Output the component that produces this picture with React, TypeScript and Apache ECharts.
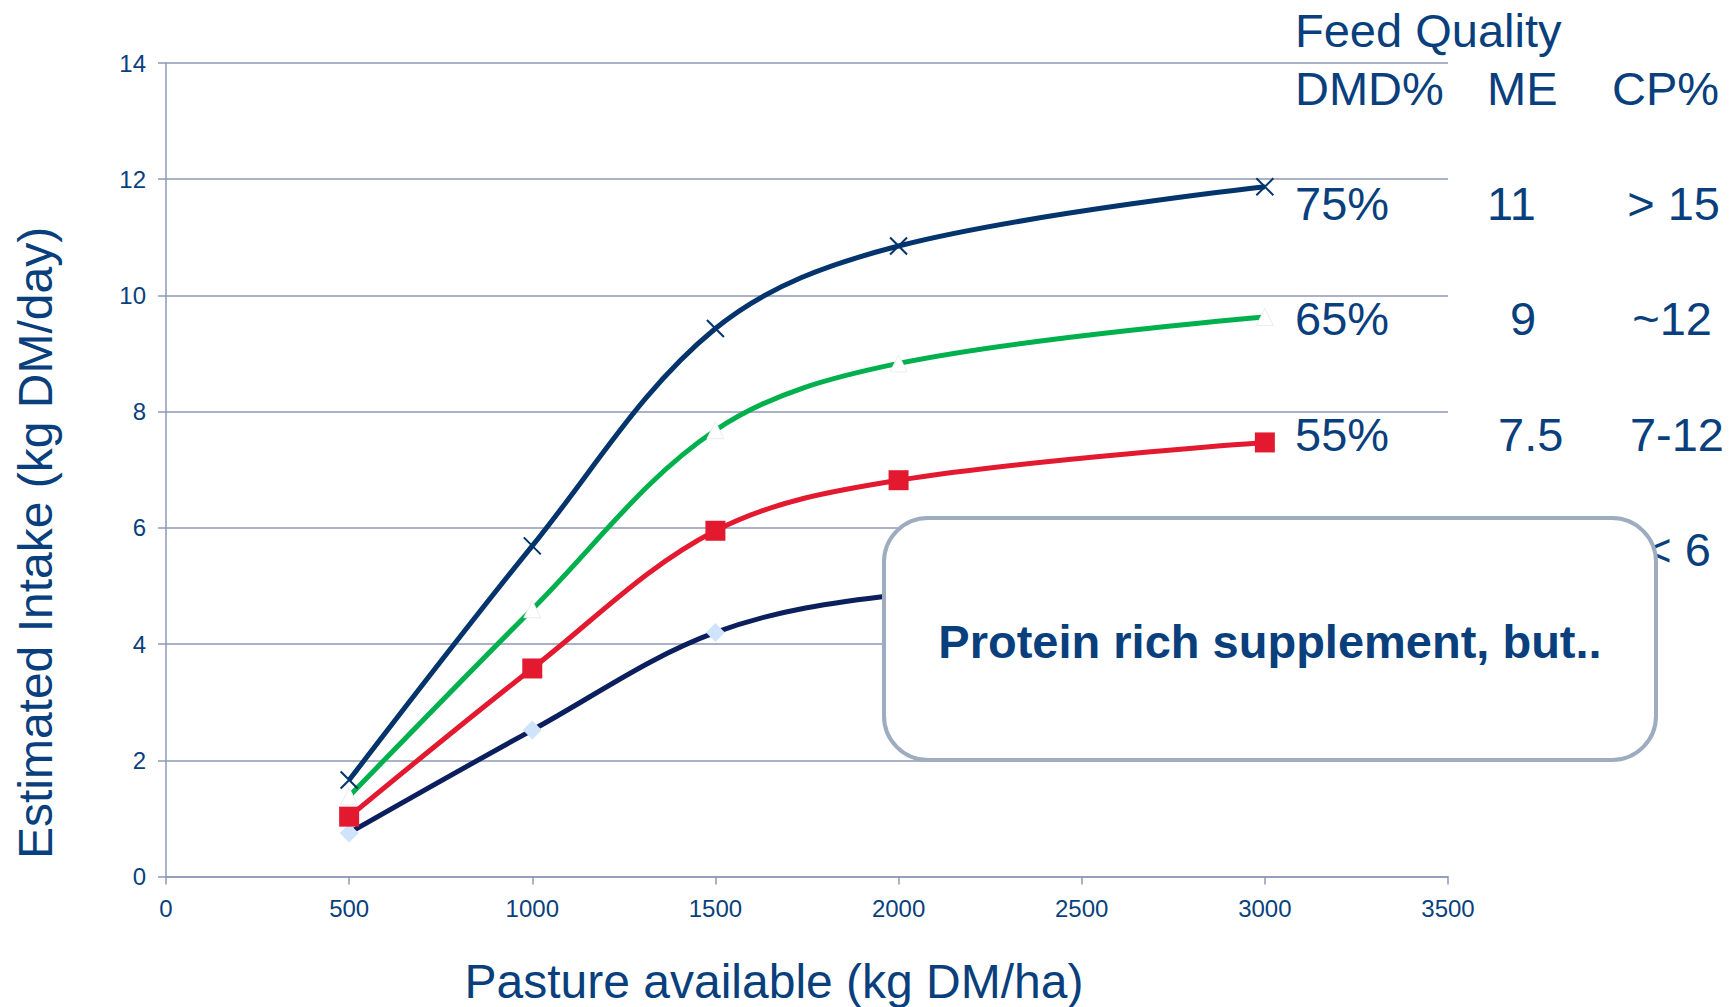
import React, { useEffect, useRef } from "react";
import * as echarts from "echarts";

const xValues = [500, 1000, 1500, 2000, 3000];
const dmd75 = [1.66, 5.69, 9.43, 10.85, 11.87];
const dmd65 = [1.38, 4.6, 7.68, 8.83, 9.63];
const dmd55 = [1.03, 3.58, 5.95, 6.82, 7.47];
const dmd45 = [0.75, 2.52, 4.2, 4.85, 5.3];

const headerTitle = "Feed Quality";
const headerCols = ["DMD%", "ME", "CP%"];
const rowDMD = ["75%", "65%", "55%"];
const rowME = ["11", "9", "7.5"];
const rowCP = ["> 15", "~12", "7-12", "< 6"];
const boxText = "Protein rich supplement, but..";
const xTitle = "Pasture available (kg DM/ha)";
const yTitle = "Estimated Intake (kg DM/day)";

const TEXT = "#0A3F7D";
const GRID = "#8E98B6";
const FONT = "'Liberation Sans', Arial, sans-serif";
const SMOOTH = 0.35;

export default function App() {
  const ref = useRef<HTMLDivElement>(null);
  useEffect(() => {
    document.body.style.margin = "0";
    const chart = echarts.init(ref.current!, null, { renderer: "svg" });
    const pts = (ys: number[]) => xValues.map((x, i) => [x, ys[i]]);
    const txt = (text: string, x: number, y: number, size: number, extra: any = {}) => ({
      type: "text",
      x,
      y,
      z: extra.z ?? 10,
      style: {
        text,
        fill: TEXT,
        font: `${extra.bold ? "bold " : ""}${size}px ${FONT}`,
        textAlign: extra.align ?? "left",
        textVerticalAlign: "middle",
      },
      rotation: extra.rotation ?? 0,
    });
    chart.setOption({
      animation: false,
      grid: { left: 166, right: 283, top: 63, bottom: 130.5, containLabel: false },
      xAxis: {
        type: "value",
        min: 0,
        max: 3500,
        interval: 500,
        splitLine: { show: false },
        axisLine: { show: true, lineStyle: { color: GRID, width: 1.5 } },
        axisTick: { show: true, length: 8, lineStyle: { color: GRID, width: 1.5 } },
        axisLabel: {
          color: TEXT,
          fontSize: 24,
          fontFamily: FONT,
          margin: 20,
          formatter: (v: number) => String(v),
        },
      },
      yAxis: {
        type: "value",
        min: 0,
        max: 14,
        interval: 2,
        splitLine: { show: true, lineStyle: { color: GRID, width: 1.5 } },
        axisLine: { show: true, lineStyle: { color: GRID, width: 1.5 } },
        axisTick: { show: true, length: 8, lineStyle: { color: GRID, width: 1.5 } },
        axisLabel: { color: TEXT, fontSize: 24, fontFamily: FONT, margin: 20 },
      },
      series: [
        {
          name: "45%",
          type: "line",
          smooth: SMOOTH,
          data: pts(dmd45),
          lineStyle: { color: "#0B1F5E", width: 5 },
          symbol: "diamond",
          symbolSize: 19,
          itemStyle: { color: "#CFE4FA", borderWidth: 0 },
        },
        {
          name: "55%",
          type: "line",
          smooth: SMOOTH,
          data: pts(dmd55),
          lineStyle: { color: "#E2192F", width: 5 },
          symbol: "rect",
          symbolSize: 20,
          itemStyle: { color: "#E2192F", borderWidth: 0 },
        },
        {
          name: "65%",
          type: "line",
          smooth: SMOOTH,
          data: pts(dmd65),
          lineStyle: { color: "#00B04C", width: 5 },
          symbol: "triangle",
          symbolSize: 17,
          itemStyle: { color: "#FFFFFF", borderColor: "#ECECEC", borderWidth: 1 },
        },
        {
          name: "75%",
          type: "line",
          smooth: SMOOTH,
          data: pts(dmd75),
          lineStyle: { color: "#04346C", width: 5 },
          symbol: "path://M0,0L20,20M20,0L0,20",
          symbolSize: 17,
          itemStyle: { color: "#04346C", borderColor: "#04346C", borderWidth: 2 },
        },
      ],
      graphic: [
        txt(headerTitle, 1295, 30, 47),
        txt(headerCols[0], 1295, 88, 47),
        txt(headerCols[1], 1487, 88, 47),
        txt(headerCols[2], 1612, 88, 47),
        txt(rowDMD[0], 1295, 203, 47),
        txt(rowME[0], 1487, 203, 47),
        txt(rowCP[0], 1720, 203, 47, { align: "right" }),
        txt(rowDMD[1], 1295, 318, 47),
        txt(rowME[1], 1510, 318, 47),
        txt(rowCP[1], 1712, 318, 47, { align: "right" }),
        txt(rowDMD[2], 1295, 434, 47),
        txt(rowME[2], 1498, 434, 47),
        txt(rowCP[2], 1724, 434, 47, { align: "right" }),
        txt(rowCP[3], 1711, 549, 47, { align: "right" }),
        {
          type: "rect",
          z: 100,
          shape: { x: 884, y: 518, width: 772, height: 242, r: 44 },
          style: { fill: "#FFFFFF", stroke: "#9DACBE", lineWidth: 4 },
        },
        txt(boxText, 1270, 641, 47, { bold: true, align: "center", z: 101 }),
        txt(xTitle, 774, 981, 48, { align: "center" }),
        txt(yTitle, 35, 543, 48, { align: "center", rotation: Math.PI / 2 }),
      ],
    });
    return () => chart.dispose();
  }, []);
  return <div ref={ref} style={{ width: "100vw", height: "100vh" }} />;
}
